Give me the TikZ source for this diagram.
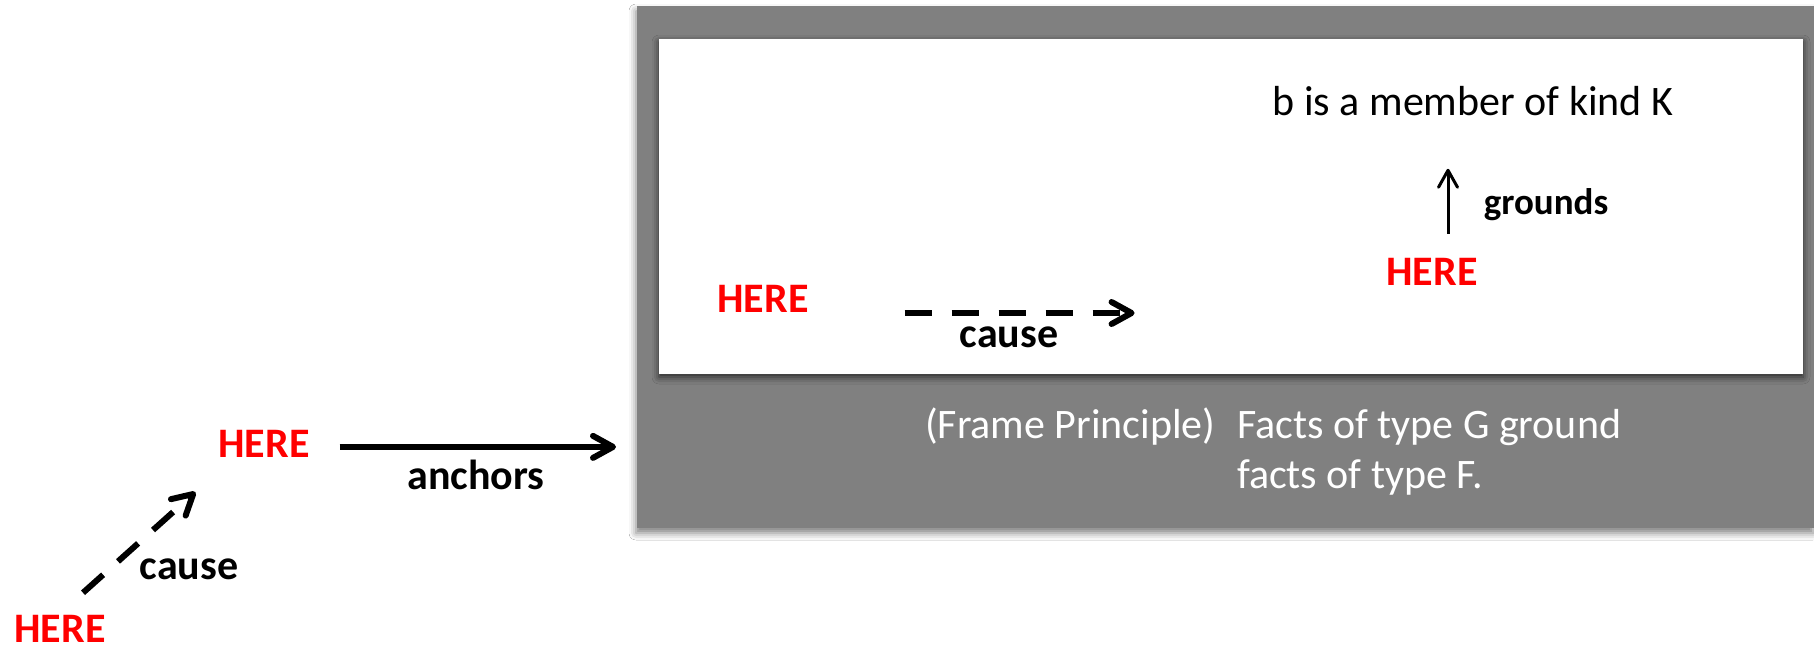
\documentclass[tikz,border=0pt]{standalone}
\usepackage{fontspec}
\setmainfont{Carlito}
\usetikzlibrary{arrows.meta,shadows.blur}
\definecolor{framegray}{RGB}{128,128,128}
\definecolor{herered}{RGB}{255,0,0}
\begin{document}
\begin{tikzpicture}[x=1pt,y=-1pt,
  every node/.style={inner sep=0pt,outer sep=0pt},
  here/.style={font=\fontsize{42}{50}\selectfont\bfseries,text=herered,anchor=base},
  lbl/.style={font=\fontsize{42}{50}\selectfont\bfseries,text=black,anchor=base},
  txt/.style={font=\fontsize{42}{50}\selectfont,text=black,anchor=base},
  wtxt/.style={font=\fontsize{42}{50}\selectfont,text=white,anchor=base west},
  bigarrow/.style={line width=6pt,-{Straight Barb[length=20pt,width=22pt,round]}},
  dasharrow/.style={bigarrow,dash pattern=on 27pt off 20pt},
  thinarrow/.style={line width=3pt,-{Straight Barb[length=17pt,width=19pt,round]}},
  frameshadow/.style={blur shadow={shadow xshift=-1pt,shadow yshift=-5pt,shadow blur radius=7pt,shadow opacity=50}},
  panelshadow/.style={blur shadow={shadow xshift=0pt,shadow yshift=-3pt,shadow blur radius=7pt,shadow opacity=70}},
]
\useasboundingbox (0,0) rectangle (1814,646);
\fill[white] (0,0) rectangle (1814,646);

\node[fill=framegray,minimum width=1177pt,minimum height=522pt,anchor=north west,frameshadow] (frame) at (637,6) {};
\node[fill=white,minimum width=1144pt,minimum height=335pt,anchor=north west,panelshadow] (panel) at (659,39) {};

\node[here] (h1) at (60,642) {HERE};
\node[here] (h2) at (264,457) {HERE};
\node[here] (h3) at (763,312) {HERE};
\node[here] (h4) at (1432,285) {HERE};
\node[lbl] (c1) at (189,579) {cause};
\node[lbl] (anc) at (476,489) {anchors};
\node[lbl] (c2) at (1009,347) {cause};
\node[lbl,font=\fontsize{37}{44}\selectfont\bfseries] (gr) at (1546,214) {grounds};
\node[txt] (mem) at (1473,115) {b is a member of kind K};
\node[wtxt] (fp) at (925,438) {(Frame Principle)};
\node[wtxt] (f1) at (1237,438) {Facts of type G ground};
\node[wtxt] (f2) at (1237,488) {facts of type F.};

\coordinate (d1s) at ([xshift=23pt,yshift=22pt]h1.north);
\coordinate (d1e) at ([xshift=-23pt,yshift=-35pt]h2.south west);
\draw[dasharrow] (d1s) -- (d1e);

\coordinate (a1) at ([xshift=30pt,yshift=-3.5pt]h2.east);
\draw[bigarrow,shorten >=21pt] (a1) -- (a1 -| frame.west);

\coordinate (d2s) at ([xshift=96pt,yshift=-1pt]h3.base east);
\coordinate (d2e) at ([xshift=230pt]d2s);
\draw[dasharrow] (d2s) -- (d2e);

\coordinate (g1) at ([xshift=16pt,yshift=24pt]h4.north);
\coordinate (g2) at ([xshift=16pt,yshift=89pt]h4.north);
\draw[thinarrow] (g1) -- (g2);
\end{tikzpicture}
\end{document}
